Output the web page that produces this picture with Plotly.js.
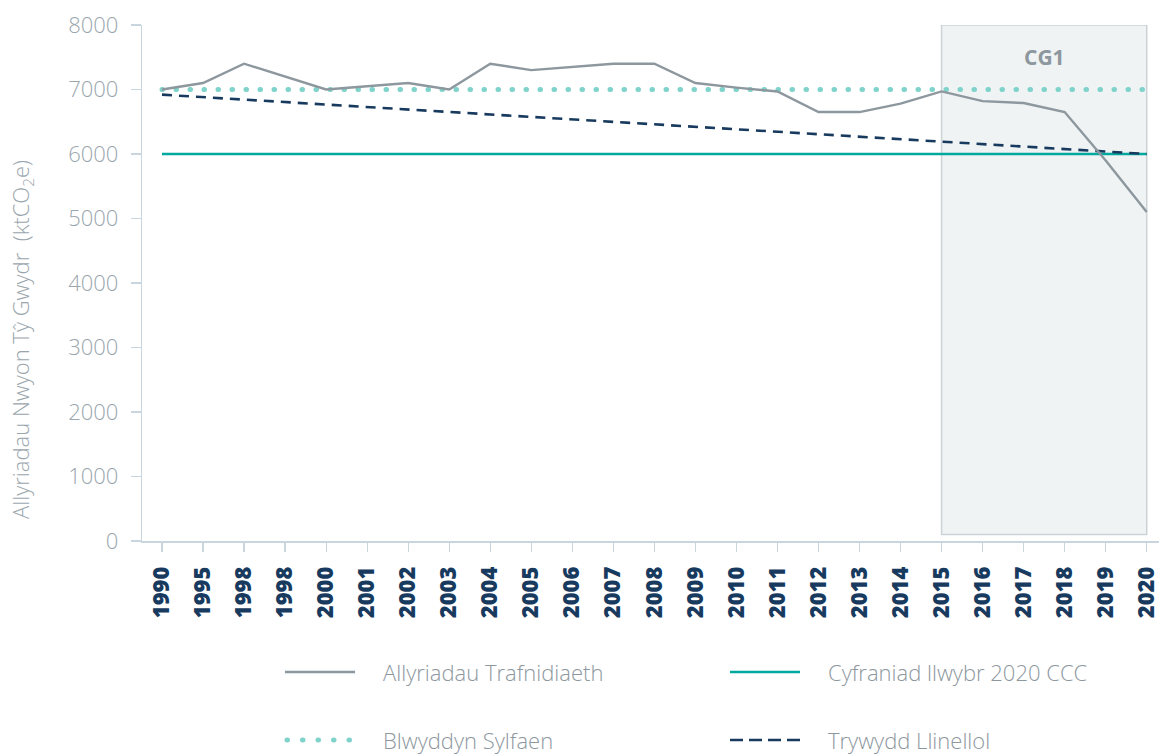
<!DOCTYPE html>
<html>
<head>
<meta charset="utf-8">
<script src="https://cdn.plot.ly/plotly-3.0.1.min.js"></script>
<style>
html,body{margin:0;padding:0;background:#fff;}
#chart{width:1159px;height:754px;}
.tracebaseline path.js-line{stroke-linecap:round;}
.roundcap{stroke-linecap:round;}
</style>
</head>
<body>
<div id="chart"></div>
<script>
// ---- data ----
const categories = ['1990','1995','1998','1998','2000','2001','2002','2003','2004','2005','2006','2007','2008','2009','2010','2011','2012','2013','2014','2015','2016','2017','2018','2019','2020'];
const transportEmissions = [7000,7100,7400,7200,7000,7050,7100,7000,7400,7300,7350,7400,7400,7100,7030,6970,6650,6650,6780,6970,6820,6790,6650,5900,5100];
const baselineYear = [7000, 7000];          // at 1990 and 2020
const pathway2020 = [6000, 6000];           // at 1990 and 2020
const linearTrend = [6920, 6000];           // at 1990 and 2020
const seriesNames = ['Allyriadau Trafnidiaeth','Cyfraniad llwybr 2020 CCC','Blwyddyn Sylfaen','Trywydd Llinellol'];
const yTicks = [0,1000,2000,3000,4000,5000,6000,7000,8000];
const boxStart = '2015', boxEnd = '2020', boxLabel = 'CG1';
const yTitle = 'Allyriadau Nwyon Tŷ Gwydr\u00a0\u00a0(ktCO<sub>2</sub>e)';

// ---- styles ----
const FONT = '"Open Sans", sans-serif';
const GRAY = '#8d979e', TEAL = '#00a99d', DOT = '#7fd3cb', NAVY = '#173a5e';
const AXIS = '#c9d6dd', LABEL = '#9aa6ad';

const idx = categories.map((_, i) => i);
const first = 0, last = categories.length - 1;
const ends = [idx[first], idx[last]];

const styles = [
  {color: GRAY, width: 2.4, dash: 'solid'},
  {color: TEAL, width: 2.6, dash: 'solid'},
  {color: DOT, width: 5, dash: '0.5px,13.5px'},
  {color: NAVY, width: 2.6, dash: '10px,7px'}
];
const legendDash = ['solid', 'solid', '0.5px,15px', '13px,6px'];
const uids = ['transport', 'pathway', 'baseline', 'trend'];

const traces = [
  {x: idx, y: transportEmissions},
  {x: ends, y: pathway2020},
  {x: ends, y: baselineYear},
  {x: ends, y: linearTrend}
].map((t, i) => Object.assign(t, {
  type: 'scatter', mode: 'lines', name: seriesNames[i], showlegend: false, uid: uids[i],
  line: styles[i], hoverinfo: 'x+y'
}));
// draw order: pathway, baseline, trend, transport on top
const ordered = [traces[1], traces[2], traces[3], traces[0]];

// ---- pixel helpers for decorations ----
const W = 1159, H = 754, L = 142, R = 0, T = 25, B = 213;
const pw = W - L - R, ph = H - T - B;
const px = x => (x - L) / pw;
const py = y => (H - B - y) / ph;
const step = 41.03;
const xr0 = -20 / step;
const xRange = [xr0, xr0 + pw / step];

const shapes = [{
  type: 'rect', xref: 'x', yref: 'y', layer: 'below',
  x0: categories.indexOf(boxStart), x1: categories.lastIndexOf(boxEnd), y0: 100, y1: 8000,
  fillcolor: '#eff3f4', line: {color: '#ccd3d7', width: 1.5}
}];

const annotations = [
  {xref: 'x', yref: 'y', x: (categories.indexOf(boxStart) + categories.lastIndexOf(boxEnd)) / 2, y: 7500,
   text: '<b>' + boxLabel + '</b>', showarrow: false, font: {family: FONT, size: 21, color: GRAY}},
  {xref: 'paper', yref: 'paper', x: px(22), y: py(340), text: yTitle, textangle: -90, showarrow: false,
   xanchor: 'center', yanchor: 'middle', font: {family: FONT, size: 22, color: LABEL, weight: 300}}
];

// custom legend (2 x 2)
const legendPos = [
  {x: 285, y: 672}, {x: 730, y: 672}, {x: 285, y: 740}, {x: 730, y: 740}
];
const dotShapeIndex = shapes.length + 2;
legendPos.forEach((p, i) => {
  const st = styles[i];
  const isDot = i === 2;
  shapes.push({type: 'line', xref: 'paper', yref: 'paper',
    x0: px(p.x + (isDot ? 2 : 0)), x1: px(p.x + (isDot ? 66 : 70)), y0: py(p.y), y1: py(p.y),
    line: {color: st.color, width: st.width, dash: legendDash[i]}});
  annotations.push({xref: 'paper', yref: 'paper', x: px(p.x + 96), y: py(p.y),
    xanchor: 'left', yanchor: 'middle', showarrow: false, text: seriesNames[i],
    font: {family: FONT, size: 22, color: GRAY, weight: 300}});
});

const layout = {
  width: W, height: H,
  margin: {l: L, r: R, t: T, b: B},
  paper_bgcolor: '#fff', plot_bgcolor: 'rgba(0,0,0,0)',
  showlegend: false,
  font: {family: FONT},
  xaxis: {
    range: xRange, tickmode: 'array', tickvals: idx, ticktext: categories,
    tickangle: -90, ticks: 'outside', ticklen: 9, tickwidth: 1.2, tickcolor: AXIS,
    showline: true, linecolor: AXIS, linewidth: 1.8, showgrid: false, zeroline: false,
    ticklabelstandoff: 6, ticklabeloverflow: 'allow',
    tickfont: {family: FONT, size: 22, color: NAVY, weight: 800}
  },
  yaxis: {
    range: [0, 8000], tickmode: 'array', tickvals: yTicks,
    ticks: 'outside', ticklen: 10, tickwidth: 1.2, tickcolor: AXIS,
    showline: true, linecolor: AXIS, linewidth: 1.2, showgrid: false, zeroline: false,
    ticklabelstandoff: 8,
    tickfont: {family: FONT, size: 22, color: LABEL, weight: 300}
  },
  shapes: shapes,
  annotations: annotations
};

Plotly.newPlot('chart', ordered, layout, {displayModeBar: false, staticPlot: true}).then(gd => {
  const p = gd.querySelector('.shapelayer path[data-index="' + dotShapeIndex + '"]');
  if (p) p.classList.add('roundcap');
});
</script>
</body>
</html>
